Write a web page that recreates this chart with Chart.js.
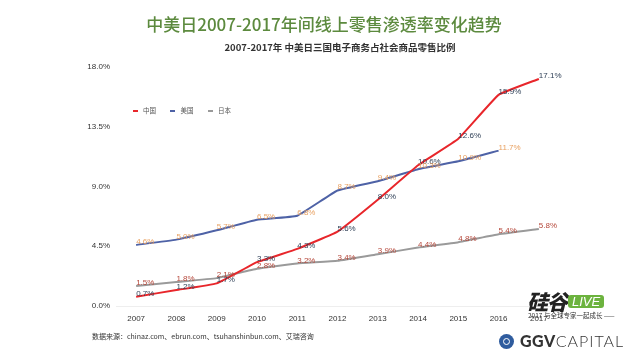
<!DOCTYPE html>
<html>
<head>
<meta charset="utf-8">
<script src="https://cdn.jsdelivr.net/npm/chart.js@4/dist/chart.umd.min.js"></script>
<style>
    body { margin: 0; background: #fff; }
    .wrap { position: relative; width: 640px; height: 360px; overflow: hidden; font-family: "Liberation Sans", Arial, sans-serif; }
    canvas { position: absolute; left: 0; top: 0; }
    .title { position: absolute; left: 0; width: 648px; top: 11px; text-align: center; font-family: "Noto Sans CJK SC", sans-serif; font-size: 17px; font-weight: 500; color: #5c8a3e; white-space: nowrap; }
    .subtitle { position: absolute; left: 0; width: 680px; top: 40px; text-align: center; font-family: "Noto Sans CJK SC", sans-serif; font-size: 9.5px; font-weight: 700; color: #333; white-space: nowrap; }
    .legend { position: absolute; top: 105px; left: 133px; font-family: "Noto Sans CJK SC", sans-serif; font-size: 6.5px; color: #555; white-space: nowrap; }
    .legend span { display: inline-block; margin-right: 13px; }
    .legend i { display: inline-block; width: 5px; height: 1.5px; vertical-align: middle; margin-right: 5px; }
    .source { position: absolute; left: 92px; top: 331px; font-family: "Noto Sans CJK SC", sans-serif; font-size: 7px; color: #333; white-space: nowrap; }
    .live { position: absolute; left: 527px; top: 286px; white-space: nowrap; }
    .live .gu { font-family: "Noto Sans CJK SC", sans-serif; font-weight: 900; font-style: italic; font-size: 21px; color: #222; letter-spacing: -1px; }
    .live .box { display: inline-block; background: #6cb33e; color: #fff; border-radius: 3px; font-family: "Liberation Sans", sans-serif; font-style: italic; font-size: 13px; line-height: 13px; padding: 0 4px; vertical-align: 4px; margin-left: 1px; }
    .live .sub { position: absolute; left: 1px; top: 24px; font-size: 6.5px; color: #333; font-family: "Noto Sans CJK SC", sans-serif; }
    .ggv { position: absolute; left: 499px; top: 331px; white-space: nowrap; font-family: "Lato", "Open Sans", sans-serif; font-size: 16px; color: #333; }
    .ggv .dot { display: inline-block; width: 15px; height: 15px; border-radius: 50%; background: #2f5c9e; border: 0; vertical-align: -2px; margin-right: 6px; position: relative; }
    .ggv .dot:after { content: ""; position: absolute; left: 4px; top: 4px; width: 5px; height: 5px; border-radius: 50%; border: 1.5px solid #fff; }
    .ggv b { font-weight: 900; letter-spacing: 0.5px; }
    .ggv em { font-style: normal; font-weight: 300; letter-spacing: 1px; }
</style>
</head>
<body>
<div class="wrap">
    <canvas id="lineChart" width="640" height="360"></canvas>
    <div class="title">中美日2007-2017年间线上零售渗透率变化趋势</div>
    <div class="subtitle">2007-2017年 中美日三国电子商务占社会商品零售比例</div>
    <div class="legend">
        <span><i style="background:#e8262b"></i>中国</span>
        <span><i style="background:#4e62a6"></i>美国</span>
        <span><i style="background:#9a9a9a"></i>日本</span>
    </div>
    <div class="source">数据来源：chinaz.com、ebrun.com、tsuhanshinbun.com、艾瑞咨询</div>
    <div class="live"><span class="gu">硅谷</span><span class="box">LIVE</span><div class="sub">2017 与全球专家一起成长 ——</div></div>
    <div class="ggv"><span class="dot"></span><b>GGV</b><em>CAPITAL</em></div>
</div>
<script>
//------------------------------------------------------------
const years = ['2007', '2008', '2009', '2010', '2011', '2012', '2013', '2014', '2015', '2016', '2017'];
const china = [0.7, 1.2, 1.7, 3.3, 4.3, 5.6, 8.0, 10.6, 12.6, 15.9, 17.1];
const usa = [4.6, 5.0, 5.7, 6.5, 6.8, 8.7, 9.4, 10.3, 10.9, 11.7];
const japan = [1.5, 1.8, 2.1, 2.8, 3.2, 3.4, 3.9, 4.4, 4.8, 5.4, 5.8];
const yTicks = [0, 4.5, 9, 13.5, 18];

//------------------------------------------------------------
const pointLabels = {
    id: 'pointLabels',
    afterDatasetsDraw(chart) {
        const ctx = chart.ctx;
        ctx.save();
        ctx.font = '8px "Liberation Sans", Arial, sans-serif';
        ctx.textAlign = 'left';
        ctx.textBaseline = 'alphabetic';
        chart.data.datasets.forEach((ds, i) => {
            const meta = chart.getDatasetMeta(i);
            ctx.fillStyle = ds.labelColor;
            meta.data.forEach((pt, j) => {
                ctx.fillText(ds.data[j].toFixed(1) + '%', pt.x, pt.y - 1);
            });
        });
        ctx.restore();
    }
};

//------------------------------------------------------------
const context = document.getElementById('lineChart').getContext('2d');
new Chart(context, {
    type: 'line',
    data: {
        labels: years,
        datasets: [
            { label: '中国', data: china, borderColor: '#e8262b', labelColor: '#2d3e55', order: 1 },
            { label: '美国', data: usa, borderColor: '#4e62a6', labelColor: '#e8a060', order: 2 },
            { label: '日本', data: japan, borderColor: '#9a9a9a', labelColor: '#b5473a', order: 3 },
        ],
    },
    options: {
        responsive: false,
        animation: false,
        layout: { padding: { left: 60, right: 81, top: 67, bottom: 30 } },
        elements: {
            line: { borderWidth: 2, tension: 0.1 },
            point: { radius: 0 },
        },
        plugins: {
            legend: { display: false },
            tooltip: { enabled: false },
        },
        scales: {
            x: {
                offset: true,
                grid: { display: false, drawTicks: false },
                border: { display: true, color: '#eeeeee' },
                ticks: { padding: 8, color: '#333', font: { size: 8, family: '"Liberation Sans", Arial, sans-serif' } },
                afterFit: axis => { axis.height = 24; },
            },
            y: {
                min: 0,
                max: 18,
                afterBuildTicks: axis => { axis.ticks = yTicks.map(v => ({ value: v })); },
                grid: { display: false, drawTicks: false },
                border: { display: false },
                ticks: {
                    padding: 6,
                    color: '#333',
                    font: { size: 8, family: '"Liberation Sans", Arial, sans-serif' },
                    callback: v => v.toFixed(1) + '%',
                },
                afterFit: axis => { axis.width = 56; },
            },
        },
    },
    plugins: [pointLabels],
});
</script>
</body>
</html>
